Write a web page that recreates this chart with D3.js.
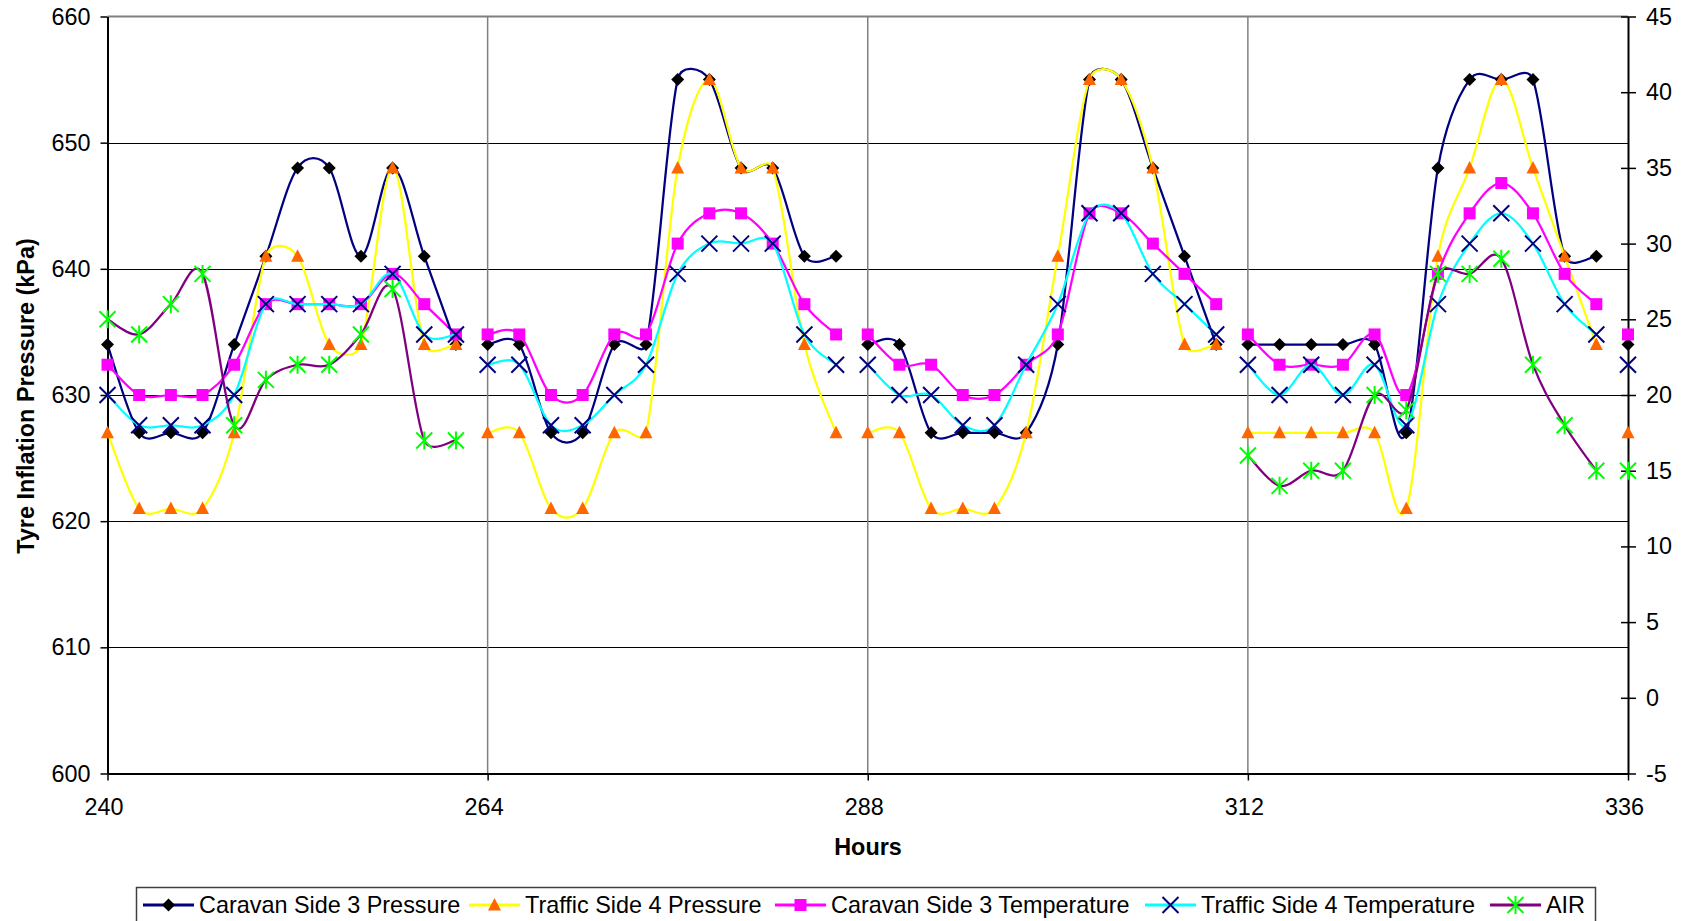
<!DOCTYPE html>
<html>
<head>
<meta charset="utf-8">
<script src="https://cdn.jsdelivr.net/npm/d3@7"></script>
<style>
  html, body { margin: 0; padding: 0; background: #fff; }
  svg { display: block; font-family: "Liberation Sans", Arial, sans-serif; }
</style>
</head>
<body>
<svg id="chart" width="1684" height="921"></svg>
<script>
// Readings every two hours; each day is logged as its own run (lines break between days).
const hours = [
  240, 242, 244, 246, 248, 250, 252, 254, 256, 258, 260, 262,
  264, 266, 268, 270, 272, 274, 276, 278, 280, 282, 284, 286,
  288, 290, 292, 294, 296, 298, 300, 302, 304, 306, 308, 310,
  312, 314, 316, 318, 320, 322, 324, 326, 328, 330, 332, 334,
  336
];
const dayStarts = [240, 264, 288, 312, 336];

// Pressures, kPa (left axis)
const caravanPressure = [
  634, 627, 627, 627, 634, 641, 648, 648, 641, 648, 641, 634,
  634, 634, 627, 627, 634, 634, 655, 655, 648, 648, 641, 641,
  634, 634, 627, 627, 627, 627, 634, 655, 655, 648, 641, 634,
  634, 634, 634, 634, 634, 627, 648, 655, 655, 655, 641, 641,
  634
];
const trafficPressure = [
  627, 621, 621, 621, 627, 641, 641, 634, 634, 648, 634, 634,
  627, 627, 621, 621, 627, 627, 648, 655, 648, 648, 634, 627,
  627, 627, 621, 621, 621, 627, 641, 655, 655, 648, 634, 634,
  627, 627, 627, 627, 627, 621, 641, 648, 655, 648, 641, 634,
  627
];

// Temperatures, °C (right axis)
const caravanTemp = [
  22, 20, 20, 20, 22, 26, 26, 26, 26, 28, 26, 24,
  24, 24, 20, 20, 24, 24, 30, 32, 32, 30, 26, 24,
  24, 22, 22, 20, 20, 22, 24, 32, 32, 30, 28, 26,
  24, 22, 22, 22, 24, 20, 28, 32, 34, 32, 28, 26,
  24
];
const trafficTemp = [
  20, 18, 18, 18, 20, 26, 26, 26, 26, 28, 24, 24,
  22, 22, 18, 18, 20, 22, 28, 30, 30, 30, 24, 22,
  22, 20, 20, 18, 18, 22, 26, 32, 32, 28, 26, 24,
  22, 20, 22, 20, 22, 18, 26, 30, 32, 30, 26, 24,
  22
];
const airTemp = [
  25, 24, 26, 28, 18, 21, 22, 22, 24, 27, 17, 17,
  null, null, null, null, null, null, null, null, null, null, null, null,
  null, null, null, null, null, null, null, null, null, null, null, null,
  16, 14, 15, 15, 20, 19, 28, 28, 29, 22, 18, 15,
  15
];

const seriesNames = [
  "Caravan Side 3 Pressure",
  "Traffic Side 4 Pressure",
  "Caravan Side 3 Temperature",
  "Traffic Side 4 Temperature",
  "AIR"
];

const xTicks = [240, 264, 288, 312, 336];
const leftTicks = [600, 610, 620, 630, 640, 650, 660];
const rightTicks = [-5, 0, 5, 10, 15, 20, 25, 30, 35, 40, 45];

// ---- layout ----
const plot = { left: 107.5, right: 1628, top: 16.5, bottom: 773.5 };
const FONT = 23.4;
const LEGEND_FONT = 23.4;
const legendSlots = [143, 469, 775, 1145, 1490]; // left edge of each legend key

const svg = d3.select("#chart");
const x = d3.scaleLinear().domain([240, 336]).range([plot.left, plot.right]);
const yL = d3.scaleLinear().domain([600, 660]).range([plot.bottom, plot.top]);
const yR = d3.scaleLinear().domain([-5, 45]).range([plot.bottom, plot.top]);

// gridlines
const grid = svg.append("g");
grid.selectAll("line.h").data(leftTicks.filter(v => v > 600 && v < 660)).join("line")
  .attr("x1", plot.left).attr("x2", plot.right)
  .attr("y1", d => Math.round(yL(d)) + 0.5).attr("y2", d => Math.round(yL(d)) + 0.5)
  .attr("stroke", "#000").attr("stroke-width", 1);
grid.selectAll("line.v").data(xTicks.filter(v => v > 240 && v < 336)).join("line")
  .attr("x1", d => x(d)).attr("x2", d => x(d))
  .attr("y1", plot.top).attr("y2", plot.bottom)
  .attr("stroke", "#808080").attr("stroke-width", 1.5);
// top border of plot area
grid.append("line")
  .attr("x1", plot.left).attr("x2", plot.right)
  .attr("y1", plot.top).attr("y2", plot.top)
  .attr("stroke", "#808080").attr("stroke-width", 2);

// axes
function styleAxis(g) {
  g.selectAll("text").attr("font-size", FONT).attr("fill", "#000")
    .attr("font-family", "Liberation Sans, Arial, sans-serif");
  g.selectAll("line").attr("stroke", "#000").attr("stroke-width", 1.5);
  g.select(".domain").attr("stroke", "#000").attr("stroke-width", 2);
}
const plain = d => String(d);

svg.append("g")
  .attr("transform", `translate(${plot.left},0)`)
  .call(d3.axisLeft(yL).tickValues(leftTicks).tickFormat(plain)
    .tickSize(7).tickSizeOuter(0).tickPadding(10))
  .call(styleAxis);

const rAxis = svg.append("g")
  .attr("transform", `translate(${plot.right},0)`)
  .call(d3.axisRight(yR).tickValues(rightTicks).tickFormat(plain)
    .tickSize(8).tickSizeOuter(0).tickPadding(10))
  .call(styleAxis);
rAxis.selectAll(".tick line").attr("x1", -7);

const bAxis = svg.append("g")
  .attr("transform", `translate(0,${plot.bottom})`)
  .call(d3.axisBottom(x).tickValues(xTicks).tickFormat(plain)
    .tickSize(7).tickSizeOuter(0).tickPadding(18))
  .call(styleAxis);
bAxis.selectAll(".tick text").attr("dx", -4);

// axis titles
svg.append("text")
  .attr("transform", "translate(34,396) rotate(-90)")
  .attr("text-anchor", "middle")
  .attr("font-size", FONT).attr("font-weight", "bold")
  .text("Tyre Inflation Pressure (kPa)");
svg.append("text")
  .attr("x", 868).attr("y", 855)
  .attr("text-anchor", "middle")
  .attr("font-size", FONT).attr("font-weight", "bold")
  .text("Hours");

// ---- series ----
const series = [
  { name: seriesNames[0], values: caravanPressure, y: yL, line: "#000080", marker: "diamond", color: "#000000" },
  { name: seriesNames[1], values: trafficPressure, y: yL, line: "#FFFF00", marker: "triangle", color: "#FF6600" },
  { name: seriesNames[2], values: caravanTemp,     y: yR, line: "#FF00FF", marker: "square",   color: "#FF00FF" },
  { name: seriesNames[3], values: trafficTemp,     y: yR, line: "#00FFFF", marker: "cross",    color: "#000080" },
  { name: seriesNames[4], values: airTemp,         y: yR, line: "#800080", marker: "star",     color: "#00FF00" }
];

function drawMarker(g, type, color) {
  switch (type) {
    case "diamond":
      return g.append("path").attr("d", "M0,-6.5L6.5,0L0,6.5L-6.5,0Z").attr("fill", color);
    case "triangle":
      return g.append("path").attr("d", "M0,-7L6.5,5.5L-6.5,5.5Z").attr("fill", color);
    case "square":
      return g.append("rect").attr("x", -6).attr("y", -6).attr("width", 12).attr("height", 12).attr("fill", color);
    case "cross":
      return g.append("path").attr("d", "M-8,-8L8,8M-8,8L8,-8")
        .attr("stroke", color).attr("stroke-width", 2).attr("fill", "none");
    case "star":
      return g.append("path").attr("d", "M-8,-8L8,8M-8,8L8,-8M0,-9L0,9")
        .attr("stroke", color).attr("stroke-width", 2).attr("fill", "none");
  }
}

// Smoothed line: cubic Béziers with 1/6 Catmull-Rom tangents, each control
// arm limited to half of its segment's length so steep steps don't balloon.
function smoothPath(pts) {
  const p = d3.path();
  if (!pts.length) return "";
  p.moveTo(pts[0][0], pts[0][1]);
  const arm = (a, b, limit) => {
    let dx = (b[0] - a[0]) / 6, dy = (b[1] - a[1]) / 6;
    const len = Math.hypot(dx, dy);
    if (len > limit && len > 0) { dx *= limit / len; dy *= limit / len; }
    return [dx, dy];
  };
  for (let i = 0; i < pts.length - 1; i++) {
    const p0 = pts[i - 1] || pts[i];
    const p1 = pts[i];
    const p2 = pts[i + 1];
    const p3 = pts[i + 2] || pts[i + 1];
    const d12 = Math.hypot(p2[0] - p1[0], p2[1] - p1[1]);
    const t1 = arm(p0, p2, d12 / 2);
    const t2 = arm(p1, p3, d12 / 2);
    p.bezierCurveTo(p1[0] + t1[0], p1[1] + t1[1], p2[0] - t2[0], p2[1] - t2[1], p2[0], p2[1]);
  }
  return p.toString();
}

function dayIndex(h) {
  let k = 0;
  dayStarts.forEach((s, i) => { if (h >= s) k = i; });
  return k;
}

const seriesLayer = svg.append("g");
series.forEach(s => {
  const pts = hours.map((h, i) => ({ h, v: s.values[i] })).filter(p => p.v !== null);
  const runs = d3.groups(pts, p => dayIndex(p.h)).map(d => d[1]);
  const g = seriesLayer.append("g");
  runs.forEach(run => {
    g.append("path").attr("d", smoothPath(run.map(p => [x(p.h), s.y(p.v)])))
      .attr("fill", "none").attr("stroke", s.line).attr("stroke-width", 2.25);
  });
  pts.forEach(p => {
    const mg = g.append("g").attr("transform", `translate(${x(p.h)},${s.y(p.v)})`);
    drawMarker(mg, s.marker, s.color);
  });
});

// ---- legend ----
const legend = svg.append("g");
legend.append("rect")
  .attr("x", 136.5).attr("y", 887.5).attr("width", 1459).attr("height", 60)
  .attr("fill", "#fff").attr("stroke", "#404040").attr("stroke-width", 1.5);
const ly = 905;
series.forEach((s, i) => {
  const lx = legendSlots[i];
  legend.append("line")
    .attr("x1", lx).attr("x2", lx + 51).attr("y1", ly).attr("y2", ly)
    .attr("stroke", s.line).attr("stroke-width", 3);
  const mg = legend.append("g").attr("transform", `translate(${lx + 25.5},${ly})`);
  drawMarker(mg, s.marker, s.color);
  legend.append("text")
    .attr("x", lx + 56).attr("y", ly).attr("dy", "0.36em")
    .attr("font-size", LEGEND_FONT).text(s.name);
});
</script>
</body>
</html>
